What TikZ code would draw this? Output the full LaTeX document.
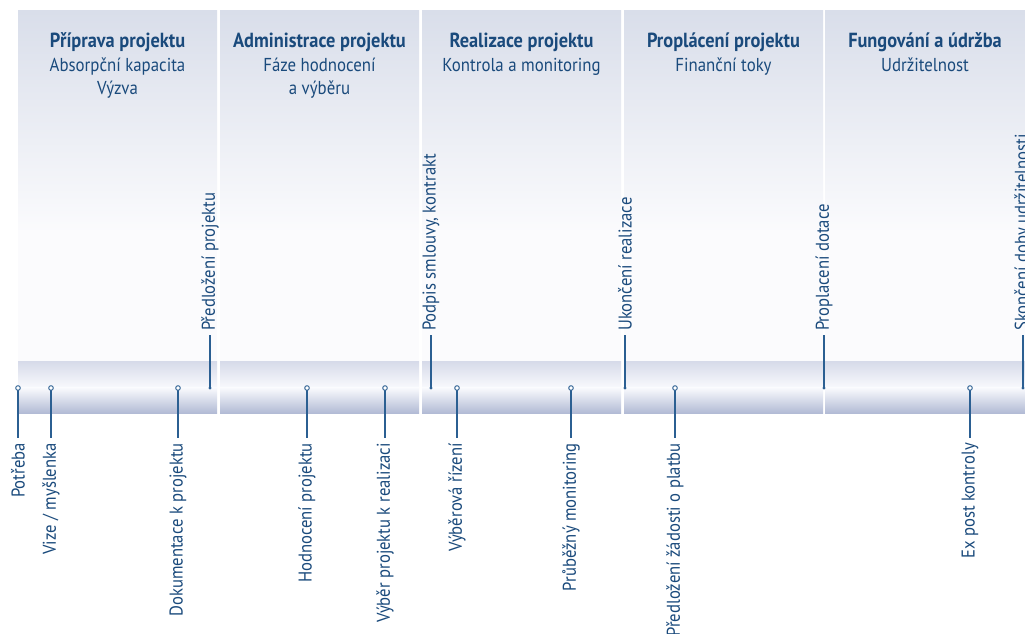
\documentclass[tikz,border=0pt]{standalone}
\usepackage{fontspec}
\setmainfont{PT Sans}[FakeStretch=0.9]
\definecolor{txtblue}{HTML}{1A4A7C}
\definecolor{lnblue}{HTML}{2B5F92}
\definecolor{colTop}{HTML}{D9DEEA}
\definecolor{colBot}{HTML}{FBFBFD}
\definecolor{bandTop}{HTML}{D6DAE9}
\definecolor{bandMid}{HTML}{F9FAFD}
\definecolor{bandBot}{HTML}{B2BBD5}
\tikzset{
  hdbold/.style={anchor=base, inner sep=0pt, text=txtblue, font=\fontsize{20.4}{24}\selectfont\bfseries},
  hdsub/.style={anchor=base, inner sep=0pt, text=txtblue, font=\fontsize{18.7}{22}\selectfont},
  lbl/.style={rotate=90, inner sep=0pt, text=txtblue, font=\fontsize{18.5}{22}\selectfont},
  lbldown/.style={lbl, anchor=east},
  lblup/.style={lbl, anchor=west},
  opendot/.style={circle, draw=lnblue, fill=white, line width=0.9pt, inner sep=0pt, minimum size=4.6pt},
  filldot/.style={circle, fill=lnblue, inner sep=0pt, minimum size=3.4pt},
  conn/.style={draw=lnblue, line width=1.1pt},
}
\begin{document}
\begin{tikzpicture}[x=1pt,y=1pt]
\clip (0,0) rectangle (1025,633);
\fill[white] (0,0) rectangle (1025,633);
% columns and band
\foreach \a/\b in {18/217, 220/419, 422/621, 624/823, 825/1025}{
  \shade[top color=colTop, bottom color=colBot] (\a,400) rectangle (\b,622);
  \fill[colBot] (\a,272) rectangle (\b,400.5);
  \shade[top color=bandTop, bottom color=bandMid] (\a,245) rectangle (\b,272);
  \shade[top color=bandMid, bottom color=bandBot] (\a,220) rectangle (\b,245.3);
}
% headers
\node[hdbold] (h1a) at (117.5,585) {Příprava projektu};
\node[hdsub]  (h1b) at (117.5,561.5) {Absorpční kapacita};
\node[hdsub]  (h1c) at (117.5,538) {Výzva};
\node[hdbold] (h2a) at (319.5,585) {Administrace projektu};
\node[hdsub]  (h2b) at (319.5,561.5) {Fáze hodnocení};
\node[hdsub]  (h2c) at (319.5,538) {a výběru};
\node[hdbold] (h3a) at (521.5,585) {Realizace projektu};
\node[hdsub]  (h3b) at (521.5,561.5) {Kontrola a monitoring};
\node[hdbold] (h4a) at (723.5,585) {Proplácení projektu};
\node[hdsub]  (h4b) at (723.5,561.5) {Finanční toky};
\node[hdbold] (h5a) at (925,585) {Fungování a údržba};
\node[hdsub]  (h5b) at (925,561.5) {Udržitelnost};
% markers below the band
\foreach \n/\x/\t in {
  d1/18/{Potřeba},
  d2/51/{Vize / myšlenka},
  d3/178/{Dokumentace k projektu},
  d4/307/{Hodnocení projektu},
  d5/385/{Výběr projektu k realizaci},
  d6/457/{Výběrová řízení},
  d7/571/{Průběžný monitoring},
  d8/675/{Předložení žádosti o platbu},
  d9/970/{Ex post kontroly}}{
  \node[lbldown] (\n l) at (\x,190) {\t};
  \draw[conn] (\x,245) -- ([yshift=5pt]\n l.east);
  \node[opendot] (\n) at (\x,245) {};
}
% markers above the band
\foreach \n/\x/\t in {
  u1/210/{Předložení projektu},
  u2/431/{Podpis smlouvy, kontrakt},
  u3/625/{Ukončení realizace},
  u4/824/{Proplacení dotace},
  u5/1023/{Skončení doby udržitelnosti}}{
  \node[filldot] (\n) at (\x,245) {};
  \node[lblup] (\n l) at (\x,302) {\t};
  \draw[conn] (\n.center) -- ([yshift=-4pt]\n l.west);
}
\end{tikzpicture}
\end{document}
